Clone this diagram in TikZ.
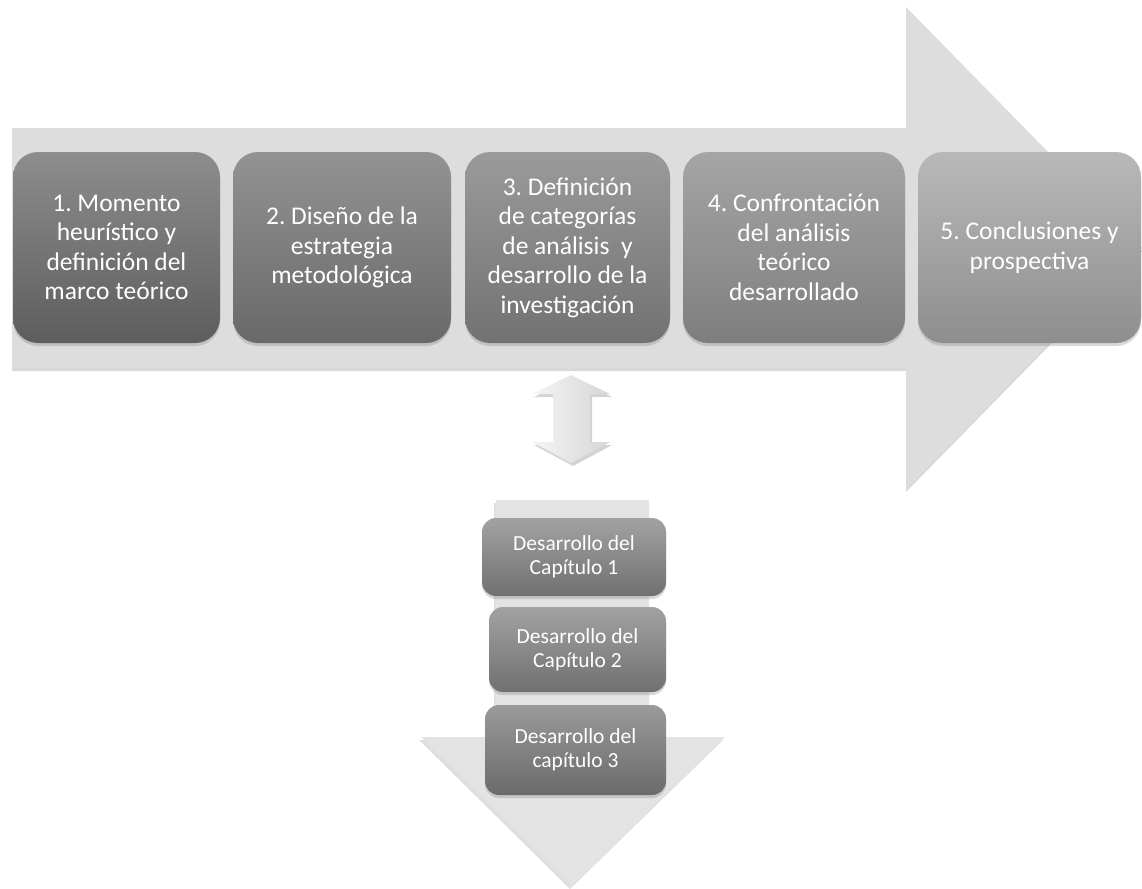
\documentclass[tikz,border=0pt]{standalone}
\usepackage{fontspec}
\setmainfont{Carlito}
\usetikzlibrary{shadows}
\definecolor{arrowgray}{HTML}{DDDDDD}
\definecolor{gOneT}{HTML}{8D8D8D}\definecolor{gOneB}{HTML}{5D5D5D}
\definecolor{gTwoT}{HTML}{939393}\definecolor{gTwoB}{HTML}{696969}
\definecolor{gThrT}{HTML}{9A9A9A}\definecolor{gThrB}{HTML}{727272}
\definecolor{gFouT}{HTML}{A5A5A5}\definecolor{gFouB}{HTML}{7E7E7E}
\definecolor{gFivT}{HTML}{B8B8B8}\definecolor{gFivB}{HTML}{8E8E8E}
\definecolor{sT}{HTML}{A2A2A2}\definecolor{sB}{HTML}{707070}
\frenchspacing
\begin{document}
\begin{tikzpicture}[x=1pt,y=-1pt,
  softshadow/.style={drop shadow={opacity=0.3, shadow xshift=0pt, shadow yshift=-3pt}},
  bigbox/.style={rounded corners=25pt, text=white, align=center,
    font=\fontsize{25.5}{29.5}\selectfont, minimum height=191pt, inner sep=2pt, softshadow},
  smallbox/.style={rounded corners=14pt, text=white, align=center,
    font=\fontsize{21.5}{24}\selectfont, inner sep=2pt, softshadow},
  bigarrow/.style={fill=arrowgray, draw=none, softshadow}
]
\useasboundingbox (0,0) rectangle (1142,888);

% big horizontal arrow
\path[bigarrow] (12,128) -- (906,128) -- (906,7) -- (1142,248) -- (906,489)
  -- (906,368) -- (12,368) -- cycle;

% main steps
\node[bigbox, minimum width=207pt, top color=gOneT, bottom color=gOneB] (b1) at (116.5,247.5)
  {1. Momento\\heurístico y\\definición del\\marco teórico};
\node[bigbox, minimum width=218pt, top color=gTwoT, bottom color=gTwoB] (b2) at (342,247.5)
  {2. Diseño de la\\estrategia\\metodológica};
\node[bigbox, minimum width=205pt, top color=gThrT, bottom color=gThrB] (b3) at (567.5,247.5)
  {3. Definición\\de categorías\\de análisis\ \ y\\desarrollo de la\\investigación};
\node[bigbox, minimum width=222pt, top color=gFouT, bottom color=gFouB] (b4) at (794,247.5)
  {4. Confrontación\\del análisis\\teórico\\desarrollado};
\node[bigbox, minimum width=223pt, top color=gFivT, bottom color=gFivB] (b5) at (1029.5,247.5)
  {5. Conclusiones y\\prospectiva};

% double arrow
\path[left color=white!96!black, right color=white!84!black,
      drop shadow={opacity=0.35, shadow xshift=2pt, shadow yshift=-3pt}]
  (571,375) -- (610,394) -- (590,394) -- (590,442) -- (610,442) -- (571,463)
  -- (532,442) -- (553,442) -- (553,394) -- (532,394) -- cycle;

% vertical arrow
\path[fill=white!89!black, drop shadow={opacity=0.25, shadow xshift=-2pt, shadow yshift=-3pt}]
  (496,500) -- (649,500) -- (649,737) -- (725,737) -- (572,886) -- (421,737)
  -- (496,737) -- cycle;

% chapter boxes
\node[smallbox, minimum width=184pt, minimum height=78pt, top color=sT, bottom color=sB] (c1) at (574,557)
  {Desarrollo del\\Capítulo 1};
\node[smallbox, minimum width=177pt, minimum height=85pt, top color=sT, bottom color=sB] (c2) at (577.5,649.5)
  {Desarrollo del\\Capítulo 2};
\node[smallbox, minimum width=181pt, minimum height=90pt, top color=sT!95!black, bottom color=sB!95!black] (c3) at (575.5,750)
  {Desarrollo del\\capítulo 3};
\end{tikzpicture}
\end{document}
